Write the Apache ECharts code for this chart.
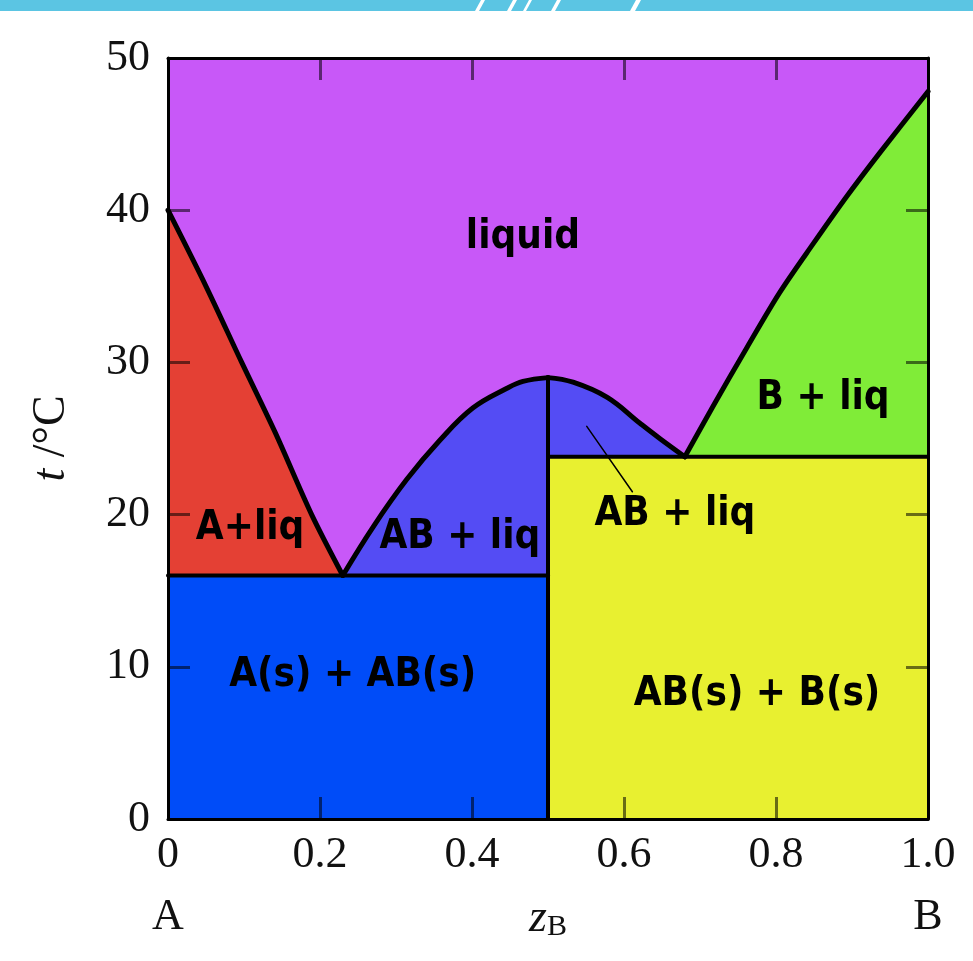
<!DOCTYPE html>
<html>
<head>
<meta charset="utf-8">
<script src="https://cdn.jsdelivr.net/npm/echarts@6/dist/echarts.min.js"></script>
<style>
html, body { margin: 0; padding: 0; background: #fff; }
#chart { width: 973px; height: 961px; }
</style>
</head>
<body>
<div id="chart"></div>
<script>
// liquidus branches, [z_B, t/°C]
var liqA = [[0, 40], [0.05, 35], [0.097, 30], [0.141, 25.4], [0.189, 20], [0.23, 16]];
var liqABleft = [[0.23, 16], [0.27, 19.2], [0.314, 22.3], [0.358, 24.9], [0.401, 27.0], [0.446, 28.3], [0.467, 28.75], [0.5, 29]];
var liqABright = [[0.5, 29], [0.533, 28.7], [0.578, 27.7], [0.621, 26.0], [0.647, 25.0], [0.68, 23.8]];
var liqB = [[0.68, 23.8], [0.717, 27.1], [0.762, 31.0], [0.805, 34.6], [0.849, 37.8], [0.893, 40.9], [0.937, 43.8], [1, 47.8]];

var tEut1 = 16;    // A + AB eutectic
var tEut2 = 23.8;  // AB + B eutectic
var zAB = 0.5;
var tAB = 29;

var labelTexts = ['liquid', 'A+liq', 'AB + liq', 'AB + liq', 'B + liq', 'A(s) + AB(s)', 'AB(s) + B(s)'];
var labelSpots = [[0.467, 38.2], [0.108, 19.1], [0.384, 18.5], [0.667, 20.0], [0.862, 27.6], [0.243, 9.4], [0.775, 8.2]];
var pointer = [[0.551, 25.8], [0.611, 21.5]];

// regions built from the branches above
var regions = [
    { color: '#c858f8', pts: [[0, 50]].concat(liqA, liqABleft.slice(1), liqABright.slice(1), liqB.slice(1), [[1, 50]]) },
    { color: '#e44034', pts: liqA.concat([[0, tEut1]]) },
    { color: '#544cf4', pts: liqABleft.concat([[zAB, tEut1]]) },
    { color: '#544cf4', pts: liqABright.concat([[zAB, tEut2]]) },
    { color: '#80ec38', pts: liqB.concat([[1, tEut2]]) },
    { color: '#004cf8', pts: [[0, 0], [zAB, 0], [zAB, tEut1], [0, tEut1]] },
    { color: '#e8f030', pts: [[zAB, 0], [1, 0], [1, tEut2], [zAB, tEut2]] }
];

var serif = '"Liberation Serif", "DejaVu Serif", serif';
var tickStyle = { show: true, inside: true, length: 22, lineStyle: { color: 'rgba(0,0,0,0.55)', width: 3 } };
var lineAxis = { show: true, onZero: false, lineStyle: { color: '#000', width: 3 } };

function curve(d, w, s) {
    return {
        type: 'line', data: d, symbol: 'none', smooth: s || false,
        z: 4, silent: true,
        lineStyle: { color: '#000', width: w, cap: 'round', join: 'round' }
    };
}

var chart = echarts.init(document.getElementById('chart'));
var option = {
    animation: false,
    backgroundColor: '#fff',
    grid: { left: 168, right: 45, top: 58, bottom: 142, outerBoundsMode: 'none' },
    graphic: [
        { type: 'rect', left: 0, top: 0, shape: { width: 973, height: 11 }, style: { fill: '#5bc5e3' } },
        { type: 'polygon', shape: { points: [[475, 11], [479, 11], [485, 0], [481, 0]] }, style: { fill: '#fff' } },
        { type: 'polygon', shape: { points: [[507, 11], [511, 11], [517, 0], [513, 0]] }, style: { fill: '#fff' } },
        { type: 'polygon', shape: { points: [[523, 11], [526, 11], [532, 0], [529, 0]] }, style: { fill: '#fff' } },
        { type: 'polygon', shape: { points: [[551, 11], [555, 11], [561, 0], [557, 0]] }, style: { fill: '#fff' } },
        { type: 'polygon', shape: { points: [[630, 11], [635, 11], [641, 0], [636, 0]] }, style: { fill: '#fff' } }
    ],
    xAxis: [{
        type: 'value', min: 0, max: 1, interval: 0.2, position: 'bottom', z: 10,
        axisLine: lineAxis, axisTick: tickStyle, splitLine: { show: false },
        axisLabel: {
            margin: 5, showMinLabel: true, showMaxLabel: true,
            fontFamily: serif, fontSize: 44, color: '#111', lineHeight: 62,
            formatter: function (v) {
                if (v === 0) return '0\nA';
                if (v === 1) return '1.0\nB';
                return v.toFixed(1);
            }
        },
        name: '{i|z}{s|B}', nameLocation: 'middle', nameGap: 98, nameMoveOverlap: false,
        nameTextStyle: {
            verticalAlign: 'middle',
            rich: {
                i: { fontFamily: serif, fontStyle: 'italic', fontSize: 46, color: '#111', lineHeight: 50, verticalAlign: 'bottom' },
                s: { fontFamily: serif, fontSize: 30, color: '#111', lineHeight: 44, verticalAlign: 'bottom' }
            }
        }
    }, {
        type: 'value', min: 0, max: 1, interval: 0.2, position: 'top', z: 10,
        axisLine: lineAxis, axisTick: tickStyle, axisLabel: { show: false }, splitLine: { show: false }
    }],
    yAxis: [{
        type: 'value', min: 0, max: 50, interval: 10, position: 'left', z: 10,
        axisLine: lineAxis, axisTick: tickStyle, splitLine: { show: false },
        axisLabel: { margin: 18, showMinLabel: true, showMaxLabel: true, fontFamily: serif, fontSize: 44, color: '#111' },
        name: '{i|t}{n| /°C}', nameLocation: 'middle', nameGap: 116, nameMoveOverlap: false,
        nameTextStyle: {
            verticalAlign: 'middle',
            rich: {
                i: { fontFamily: serif, fontStyle: 'italic', fontSize: 46, color: '#111' },
                n: { fontFamily: serif, fontSize: 46, color: '#111' }
            }
        }
    }, {
        type: 'value', min: 0, max: 50, interval: 10, position: 'right', z: 10,
        axisLine: lineAxis, axisTick: tickStyle, axisLabel: { show: false }, splitLine: { show: false }
    }],
    series: [
        {
            type: 'custom', silent: true, z: 1,
            data: regions.map(function () { return [0.5, 25]; }),
            renderItem: function (params, api) {
                var r = regions[params.dataIndex];
                return {
                    type: 'polygon',
                    shape: { points: r.pts.map(function (p) { return api.coord(p); }) },
                    style: { fill: r.color }
                };
            }
        },
        curve(liqA, 5, 0.3),
        curve(liqABleft, 5, 0.4),
        curve(liqABright, 5, 0.4),
        curve(liqB, 5, 0.3),
        curve([[0, tEut1], [zAB, tEut1]], 4),
        curve([[zAB, tEut2], [1, tEut2]], 4),
        curve([[zAB, 0], [zAB, tAB]], 4),
        curve(pointer, 1.5),
        {
            type: 'scatter', symbolSize: 0, z: 6, silent: true,
            itemStyle: { opacity: 1 },
            data: labelTexts.map(function (t, i) { return { name: t, value: labelSpots[i] }; }),
            label: {
                show: true, position: 'inside', formatter: '{b}', opacity: 1,
                fontFamily: '"DejaVu Sans Condensed", "DejaVu Sans", sans-serif',
                fontWeight: 'bold', fontSize: 40, color: '#000'
            }
        }
    ]
};
chart.setOption(option);
</script>
</body>
</html>
